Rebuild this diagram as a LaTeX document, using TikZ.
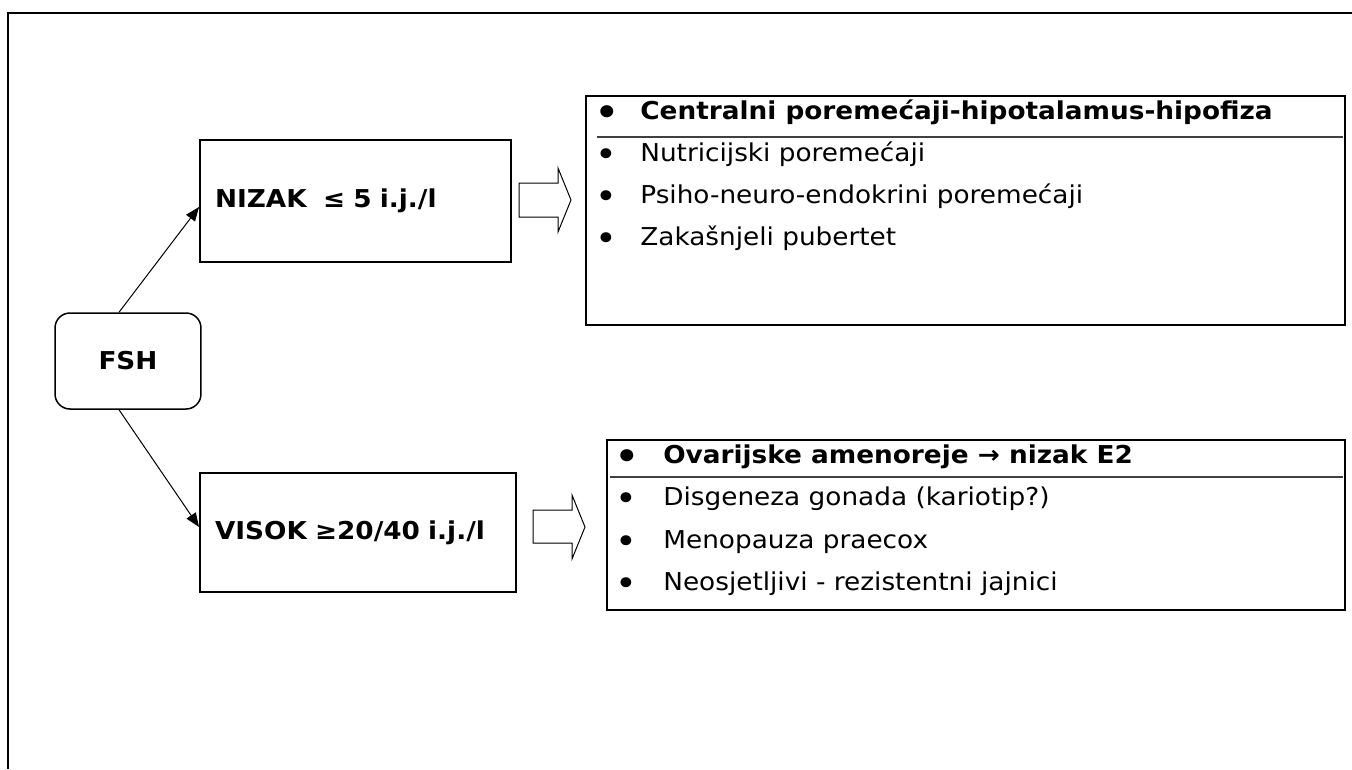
\documentclass[tikz,border=0pt]{standalone}
\usepackage{fontspec}
\setmainfont{DejaVu Sans}[FakeStretch=1.07]
\usepackage{tikz}
\usetikzlibrary{arrows.meta}
\newcommand{\fsz}{\fontsize{14}{16}\selectfont}
\newcommand{\bul}[1]{\makebox[#1][l]{\raisebox{-0.35ex}{\scalebox{1.4}{•}}}}
\tikzset{
    fsh-box/.style = {draw, line width=0.03cm, rectangle, rounded corners=0.3cm, minimum width=2.92cm, minimum height=1.92cm, font=\fsz\bfseries},
    value-box/.style = {draw, line width=0.04cm, rectangle, align=left, inner xsep=0.3cm, font=\fsz\bfseries},
    list-box/.style = {draw, line width=0.04cm, rectangle},
    list-item/.style = {anchor=mid west, inner sep=0pt, font=\fsz},
    sep-line/.style = {black!75, line width=0.03cm},
    link/.style = {line width=0.02cm, -{Triangle[length=0.28cm,width=0.22cm]}},
    block-arrow/.style = {draw, line width=0.02cm, fill=white},
}

\begin{document}
\begin{tikzpicture}[x=0.02cm, y=-0.02cm]
\useasboundingbox (0,0) rectangle (1352,769);
\draw[line width=0.04cm] (8,769) -- (8,13) -- (1352,13);

\node[fsh-box] (fsh) at (128,361) {FSH};
\node[value-box, text width=5.62cm, minimum height=2.44cm] (nizak) at (355.5,201) {NIZAK\ \ ≤ 5 i.j./l};
\node[value-box, text width=5.72cm, minimum height=2.38cm] (visok) at (358,532.5) {VISOK ≥20/40 i.j./l};

\draw[link] ([xshift=-0.18cm]fsh.north) -- ([yshift=-0.12cm]nizak.west);
\draw[link] ([xshift=-0.18cm]fsh.south) -- ([yshift=0.11cm]visok.west);

\draw[block-arrow] (519,183) -- (558,183) -- (558,168) -- (571,200) -- (558,232) -- (558,217) -- (519,217) -- cycle;
\draw[block-arrow] (533,510) -- (572,510) -- (572,495) -- (585,527) -- (572,559) -- (572,543) -- (533,543) -- cycle;

\node[list-box, minimum width=15.18cm, minimum height=4.58cm] (central) at (965.5,210.5) {};
\draw[sep-line] (597,137) -- (1343,137);
\node[list-item, font=\fsz\bfseries] (central-1) at (595,115) {\bul{0.9cm}Centralni poremećaji-hipotalamus-hipofiza};
\node[list-item] (central-2) at (595,157) {\bul{0.9cm}Nutricijski poremećaji};
\node[list-item] (central-3) at (595,199) {\bul{0.9cm}Psiho-neuro-endokrini poremećaji};
\node[list-item] (central-4) at (595,241) {\bul{0.9cm}Zakašnjeli pubertet};

\node[list-box, minimum width=14.76cm, minimum height=3.4cm] (ovar) at (976,525) {};
\draw[sep-line] (610,477) -- (1343,477);
\node[list-item, font=\fsz\bfseries] (ovar-1) at (615,459) {\bul{0.96cm}Ovarijske amenoreje → nizak E2};
\node[list-item] (ovar-2) at (615,501) {\bul{0.96cm}Disgeneza gonada (kariotip?)};
\node[list-item] (ovar-3) at (615,544) {\bul{0.96cm}Menopauza praecox};
\node[list-item] (ovar-4) at (615,586) {\bul{0.96cm}Neosjetljivi - rezistentni jajnici};
\end{tikzpicture}
\end{document}
